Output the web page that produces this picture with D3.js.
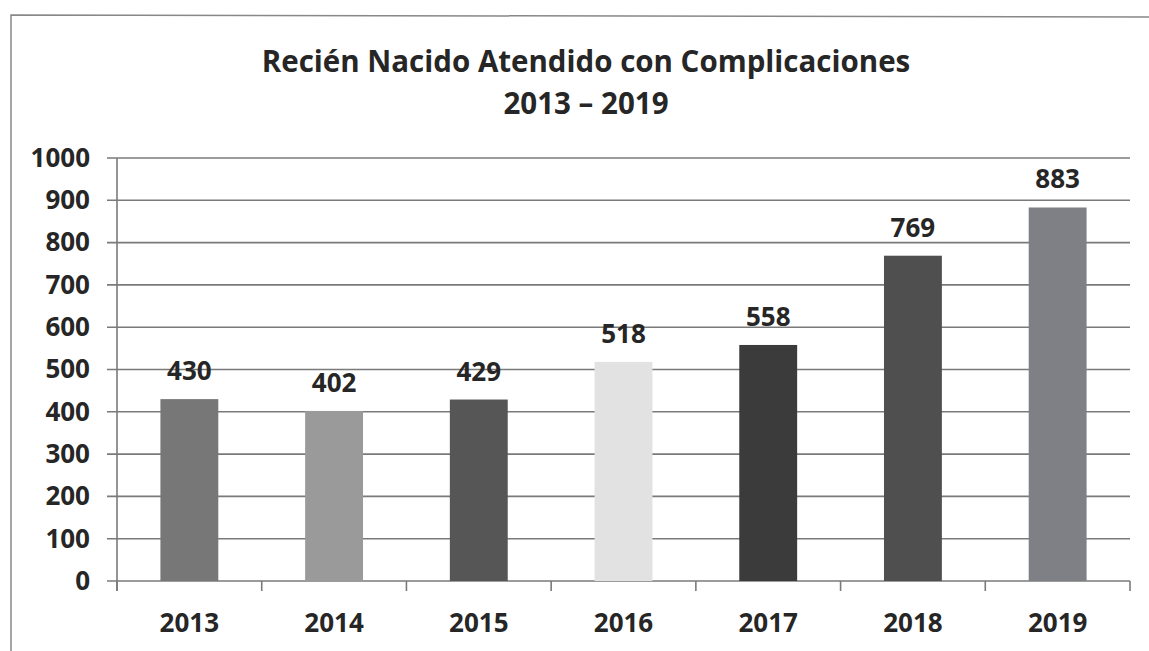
<!DOCTYPE html>
<html>
<head>
<meta charset="utf-8">
<script src="https://cdn.jsdelivr.net/npm/d3@7"></script>
<style>
  html, body { margin: 0; padding: 0; background: #fff; }
  svg { display: block; }
</style>
</head>
<body>
<svg id="chart" width="1149" height="651"></svg>
<script>
// chart data
const years = ['2013', '2014', '2015', '2016', '2017', '2018', '2019'];
const values = [430, 402, 429, 518, 558, 769, 883];
const barColors = ['#777777', '#9a9a9a', '#565656', '#e2e2e2', '#3b3b3b', '#4f4f4f', '#7f8085'];
const yTicks = [0, 100, 200, 300, 400, 500, 600, 700, 800, 900, 1000];
const titleLines = ['Recién Nacido Atendido con Complicaciones', '2013 – 2019'];

const svg = d3.select('#chart');
const font = '"Open Sans", "Noto Sans", sans-serif';
const ink = '#262626';

// frame around the whole chart (bottom is cut off in the scan)
svg.append('path')
  .attr('d', 'M11,651 L11,15 L1149,17')
  .attr('fill', 'none')
  .attr('stroke', '#888')
  .attr('stroke-width', 1.5);

const margin = { top: 158, right: 19, bottom: 70, left: 117 };
const width = 1149 - margin.left - margin.right;
const height = 651 - margin.top - margin.bottom;

const g = svg.append('g').attr('transform', `translate(${margin.left},${margin.top})`);

const x = d3.scaleBand().domain(years).range([0, width]).paddingInner(0.6).paddingOuter(0.3);
const y = d3.scaleLinear().domain([0, 1000]).range([height, 0]);

// horizontal grid lines (extend left as tick marks)
g.append('g')
  .selectAll('line')
  .data(yTicks)
  .enter()
  .append('line')
  .attr('x1', -10).attr('x2', width)
  .attr('y1', d => y(d)).attr('y2', d => y(d))
  .attr('stroke', '#7a7a7a')
  .attr('stroke-width', 1.6);

// y axis line
g.append('line')
  .attr('x1', 0).attr('x2', 0)
  .attr('y1', 0).attr('y2', height + 10)
  .attr('stroke', '#7a7a7a').attr('stroke-width', 1.6);

// category boundary ticks below the axis
const step = x.step();
g.append('g')
  .selectAll('line')
  .data(d3.range(years.length + 1))
  .enter()
  .append('line')
  .attr('x1', i => i * step).attr('x2', i => i * step)
  .attr('y1', height).attr('y2', height + 10)
  .attr('stroke', '#7a7a7a').attr('stroke-width', 1.6);

// y labels
const yAxis = g.append('g')
  .call(d3.axisLeft(y).tickValues(yTicks).tickFormat(d3.format('d')).tickSize(0).tickPadding(27));
yAxis.select('.domain').remove();
yAxis.selectAll('text')
  .attr('fill', ink)
  .style('font-family', font)
  .style('font-weight', 700)
  .style('font-size', '26px');

// x labels
const xAxis = g.append('g')
  .attr('transform', `translate(0,${height})`)
  .call(d3.axisBottom(x).tickSize(0).tickPadding(33));
xAxis.select('.domain').remove();
xAxis.selectAll('text')
  .attr('fill', ink)
  .style('font-family', font)
  .style('font-weight', 700)
  .style('font-size', '26px');

// bars
const rows = years.map((yr, i) => ({ year: yr, value: values[i], color: barColors[i] }));
g.selectAll('.bar')
  .data(rows)
  .enter()
  .append('rect')
  .attr('class', 'bar')
  .attr('x', d => x(d.year))
  .attr('width', x.bandwidth())
  .attr('y', d => y(d.value))
  .attr('height', d => y(0) - y(d.value))
  .attr('fill', d => d.color);

// value labels
g.selectAll('.val')
  .data(rows)
  .enter()
  .append('text')
  .attr('class', 'val')
  .attr('x', d => x(d.year) + x.bandwidth() / 2)
  .attr('y', d => y(d.value) - 19)
  .attr('text-anchor', 'middle')
  .attr('fill', ink)
  .style('font-family', font)
  .style('font-weight', 700)
  .style('font-size', '26px')
  .text(d => d.value);

// title
svg.append('g')
  .selectAll('text')
  .data(titleLines)
  .enter()
  .append('text')
  .attr('x', 586)
  .attr('y', (d, i) => 72 + i * 42)
  .attr('text-anchor', 'middle')
  .attr('fill', ink)
  .style('font-family', font)
  .style('font-weight', 700)
  .style('font-size', '29.5px')
  .text(d => d);
</script>
</body>
</html>
